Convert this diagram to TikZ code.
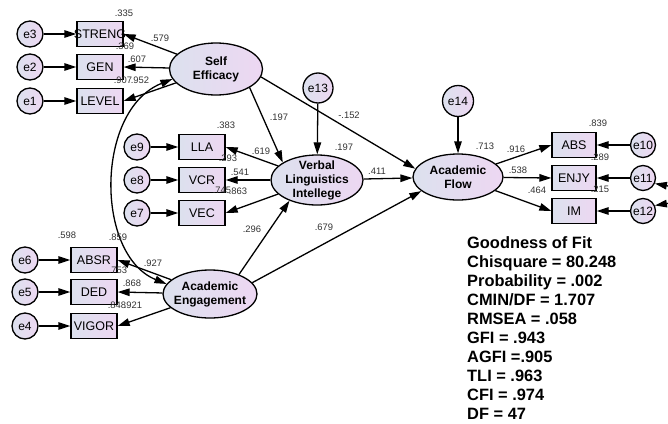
\documentclass[tikz,border=0pt]{standalone}
\usepackage{fontspec}
\setmainfont{Liberation Sans}
\usetikzlibrary{arrows.meta,shapes.geometric}
\definecolor{fillL}{HTML}{DCE1EE}
\definecolor{fillR}{HTML}{EDD7F2}
\definecolor{lab}{HTML}{333333}
\tikzset{
  nodefill/.style={left color=fillL, right color=fillR},
  lat/.style={ellipse, draw, line width=1.3pt, nodefill, inner sep=0pt},
  ltext/.style={align=center, font=\fontsize{12}{14}\selectfont\bfseries, inner sep=0pt},
  obs/.style={rectangle, draw, line width=1.3pt, nodefill, minimum width=46pt, minimum height=25pt, inner sep=0pt, font=\fontsize{12.5}{14}\selectfont},
  err/.style={circle, draw, line width=1.3pt, nodefill, minimum size=26pt, inner sep=0pt, font=\fontsize{12}{14}\selectfont},
  coef/.style={font=\fontsize{9.4}{10}\selectfont, text=lab, inner sep=0pt},
  conn/.style={line width=1.3pt, -{Triangle[length=12pt,width=7.5pt]}},
  biconn/.style={line width=1.3pt, {Triangle[length=12pt,width=7.5pt]}-{Triangle[length=12pt,width=7.5pt]}},
  gof/.style={align=left, inner sep=0pt, font=\fontsize{16.4}{19}\selectfont\bfseries},
}
\begin{document}
\begin{tikzpicture}[x=1pt,y=-1pt]
\fill[white] (0,0) rectangle (668,423);
\useasboundingbox (0,0) rectangle (668,423);

% latent variables
\node[lat, minimum width=93pt, minimum height=52pt] (se) at (216,69) {};
\node[ltext] (set) at (se) {Self\\Efficacy};
\node[lat, minimum width=92pt, minimum height=50pt] (vl) at (317,180) {};
\node[ltext] (vlt) at (vl) {Verbal\\Linguistics\\Intellege};
\node[lat, minimum width=94pt, minimum height=48pt] (ae) at (210,294) {};
\node[ltext] (aet) at (ae) {Academic\\Engagement};
\node[lat, minimum width=90pt, minimum height=46pt] (af) at (458,177) {};
\node[ltext] (aft) at (af) {Academic\\Flow};

% observed variables
\node[obs] (streng) at (100,34) {\makebox[0pt]{STRENG}};
\node[obs] (gen) at (100,67) {\makebox[0pt]{GEN}};
\node[obs] (level) at (100,101) {\makebox[0pt]{LEVEL}};
\node[obs] (lla) at (202,147) {\makebox[0pt]{LLA}};
\node[obs] (vcr) at (202,180) {\makebox[0pt]{VCR}};
\node[obs] (vec) at (202,213) {\makebox[0pt]{VEC}};
\node[obs] (absr) at (94,260) {\makebox[0pt]{ABSR}};
\node[obs] (ded) at (94,292) {\makebox[0pt]{DED}};
\node[obs] (vigor) at (94,326) {\makebox[0pt]{VIGOR}};
\node[obs, minimum width=44pt] (abs) at (574,145) {\makebox[0pt]{ABS}};
\node[obs, minimum width=44pt] (enjy) at (574,178) {\makebox[0pt]{ENJY}};
\node[obs, minimum width=44pt] (im) at (574,211) {\makebox[0pt]{IM}};

% error terms
\node[err] (e3) at (30,34) {e3};
\node[err] (e2) at (30,67) {e2};
\node[err] (e1) at (30,101) {e1};
\node[err] (e9) at (137,147) {e9};
\node[err] (e8) at (137,180) {e8};
\node[err] (e7) at (137,213) {e7};
\node[err] (e6) at (25,260) {e6};
\node[err] (e5) at (25,292) {e5};
\node[err] (e4) at (25,326) {e4};
\node[err, minimum size=30pt] (e13) at (318,88) {e13};
\node[err, minimum size=31pt] (e14) at (458,101) {e14};
\node[err, minimum size=25pt] (e10) at (643,145) {e10};
\node[err, minimum size=25pt] (e11) at (643,178) {e11};
\node[err, minimum size=25pt] (e12) at (643,211) {e12};

% error arrows
\draw[conn] (e3) -- (streng);
\draw[conn] (e2) -- (gen);
\draw[conn] (e1) -- (level);
\draw[conn] (e9) -- (lla);
\draw[conn] (e8) -- (vcr);
\draw[conn] (e7) -- (vec);
\draw[conn] (e6) -- (absr);
\draw[conn] (e5) -- (ded);
\draw[conn] (e4) -- (vigor);
\draw[conn] (e13) -- (vl);
\draw[conn] (e14) -- (af);
\draw[conn] (e10) -- (abs);
\draw[conn] (e11) -- (enjy);
\draw[conn] (e12) -- (im);

% loadings
\draw[conn] (se) -- (streng.east);
\draw[conn] (se) -- (gen.east);
\draw[conn] (se) -- (level.east);
\draw[conn] (vl) -- (lla.east);
\draw[conn] (vl) -- (vcr.east);
\draw[conn] (vl) -- (vec.east);
\draw[conn] (ae) -- (absr.east);
\draw[conn] (ae) -- (ded.east);
\draw[conn] (ae) -- (vigor.east);
\draw[conn] (af) -- (abs.west);
\draw[conn] (af) -- (enjy.west);
\draw[conn] (af) -- (im.west);

% structural paths
\draw[conn] (se.-29) -- (vl.153);
\draw[conn] (se.-10) -- (af.169);
\draw[conn] (ae.34) -- (vl.-143);
\draw[conn] (ae.15) -- (af.-159);
\draw[conn] (vl) -- (af);

% covariances
\draw[biconn] (se.193) .. controls (95,110) and (95,255) .. (ae.167);
\draw[biconn] (e11.-25) .. controls (690,190) and (690,200) .. (e12.25);

% coefficients
\node[coef] (c1) at (124,13) {.335};
\node[coef] (c2) at (160,38) {.579};
\node[coef] (c3) at (125,46) {.369};
\node[coef] (c4) at (137,59) {.607};
\node[coef] (c5) at (123,80) {.907};
\node[coef] (c6) at (140,80) {.952};
\node[coef] (c7) at (226,125) {.383};
\node[coef] (c8) at (261,151) {.619};
\node[coef] (c9) at (228,158) {.293};
\node[coef] (c10) at (240,172) {.541};
\node[coef] (c11) at (222,190) {.745};
\node[coef] (c12) at (238,191) {.863};
\node[coef] (c13) at (279,117) {.197};
\node[coef] (c14) at (349,115) {-.152};
\node[coef] (c15) at (344,147) {.197};
\node[coef] (c16) at (377,171) {.411};
\node[coef] (c17) at (252,229) {.296};
\node[coef] (c18) at (324,227) {.679};
\node[coef] (c19) at (67,235) {.598};
\node[coef] (c20) at (118,237) {.859};
\node[coef] (c21) at (153,263) {.927};
\node[coef] (c22) at (118,270) {.753};
\node[coef] (c23) at (132,283) {.868};
\node[coef] (c24) at (117,305) {.848};
\node[coef] (c25) at (133,305) {.921};
\node[coef] (c26) at (485,146) {.713};
\node[coef] (c27) at (598,123) {.839};
\node[coef] (c28) at (516,149) {.916};
\node[coef] (c29) at (518,170) {.538};
\node[coef] (c30) at (600,157) {.289};
\node[coef] (c31) at (537,190) {.464};
\node[coef] (c32) at (600,189) {.215};

% goodness of fit
\node[gof, anchor=north west] (gof) at (467,236) {Goodness of Fit\\Chisquare = 80.248\\Probability = .002\\CMIN/DF = 1.707\\RMSEA = .058\\GFI = .943\\AGFI =.905\\TLI = .963\\CFI = .974\\DF = 47};
\end{tikzpicture}
\end{document}
